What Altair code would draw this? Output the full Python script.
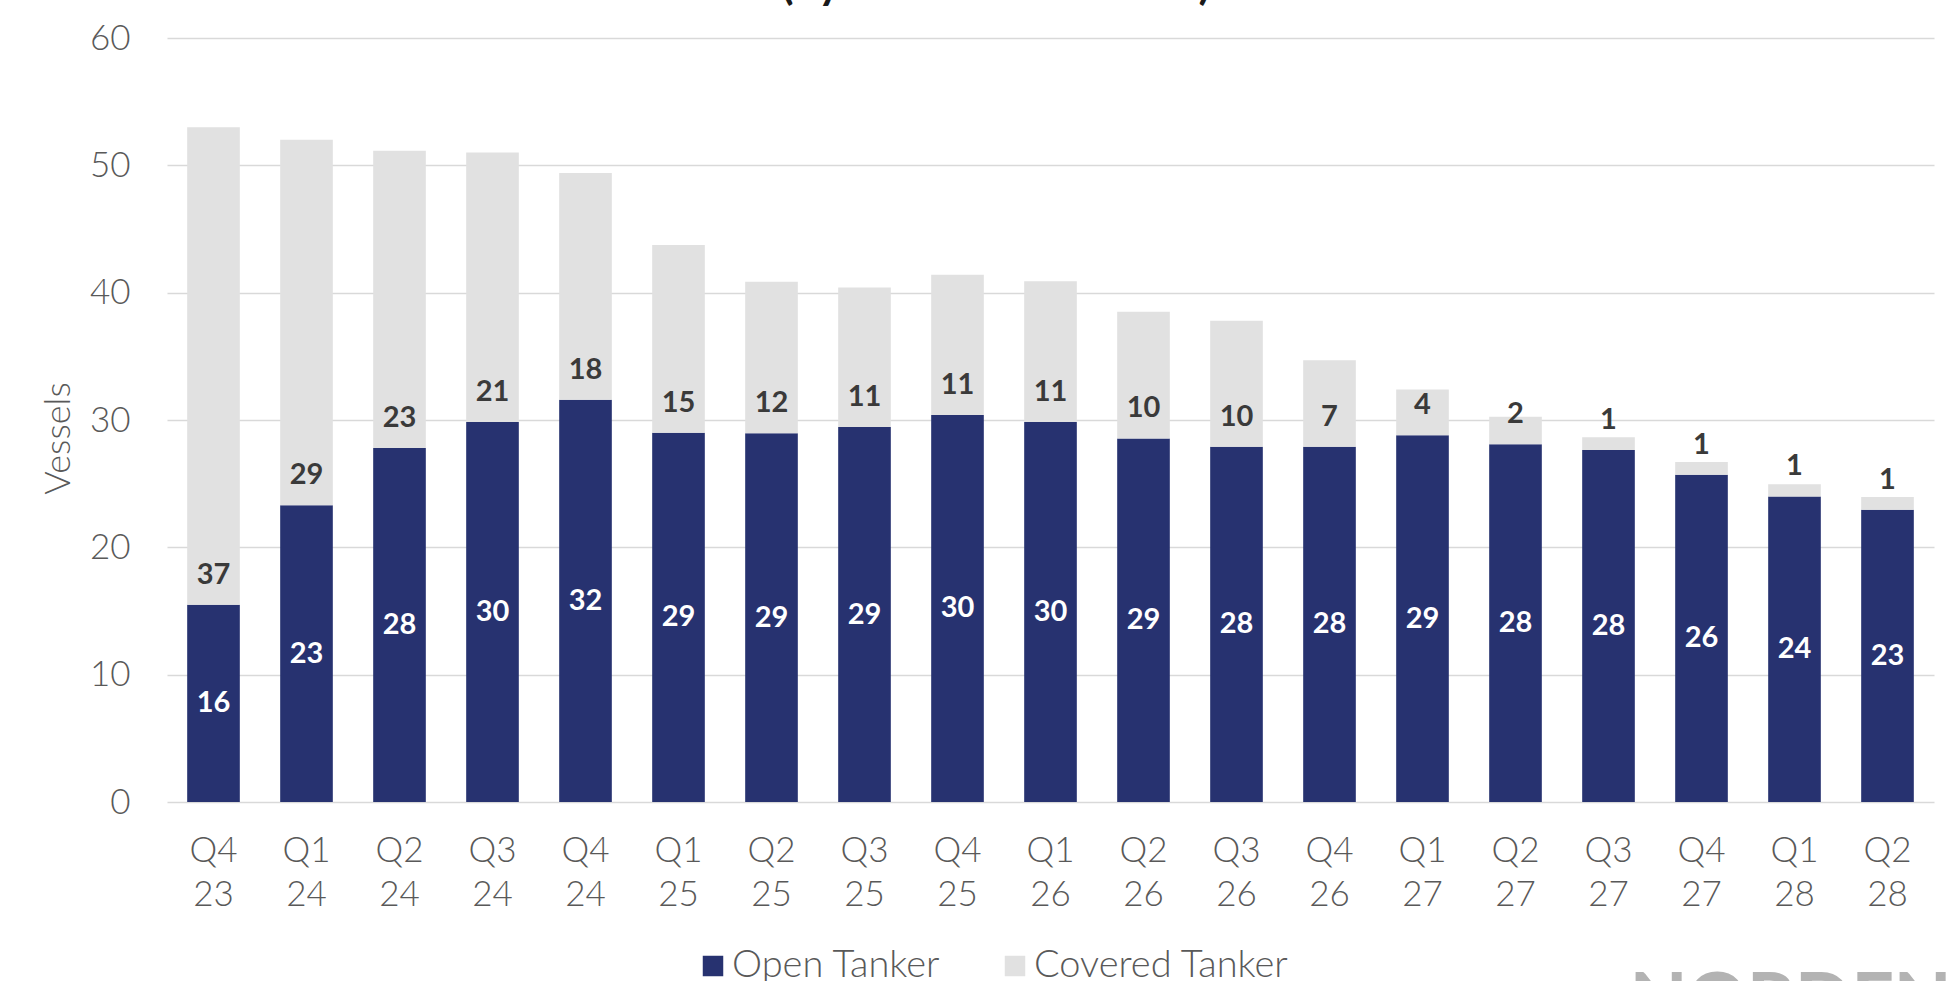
import altair as alt
import pandas as pd

quarters = ["Q4 23", "Q1 24", "Q2 24", "Q3 24", "Q4 24", "Q1 25", "Q2 25", "Q3 25", "Q4 25",
            "Q1 26", "Q2 26", "Q3 26", "Q4 26", "Q1 27", "Q2 27", "Q3 27", "Q4 27", "Q1 28", "Q2 28"]
open_h = [15.5, 23.3, 27.8, 29.85, 31.6, 29.0, 28.95, 29.45, 30.4, 29.85,
          28.55, 27.9, 27.9, 28.8, 28.1, 27.65, 25.7, 24.0, 22.95]
covered_h = [37.5, 28.7, 23.35, 21.15, 17.8, 14.75, 11.9, 10.95, 11.0, 11.05,
             9.95, 9.9, 6.8, 3.6, 2.15, 1.0, 1.0, 0.95, 1.0]
open_lbl = [16, 23, 28, 30, 32, 29, 29, 29, 30, 30, 29, 28, 28, 29, 28, 28, 26, 24, 23]
covered_lbl = [37, 29, 23, 21, 18, 15, 12, 11, 11, 11, 10, 10, 7, 4, 2, 1, 1, 1, 1]
series = ["Open Tanker", "Covered Tanker"]
colors = ["#273270", "#e1e1e1"]
title_text = ["(by number of vessels)"]
logo_text = ["NORDEN"]

rows = []
for q, o, c, ol, cl in zip(quarters, open_h, covered_h, open_lbl, covered_lbl):
    rows.append({"q": q, "series": series[0], "start": 0.0, "end": o, "mid": o / 2, "label": ol})
    rows.append({"q": q, "series": series[1], "start": o, "end": o + c, "mid": o + c / 2, "label": cl})
df = pd.DataFrame(rows)

FONT = "Lato"
GRAY = "#595959"

x_enc = alt.X(
    "q:N", sort=quarters, title=None,
    scale=alt.Scale(paddingInner=0.434, paddingOuter=0.217),
    axis=alt.Axis(labelAngle=0, labelExpr="split(datum.label, ' ')", labelLineHeight=44.7,
                  labelBaseline="top", labelPadding=31, labelFontSize=35, labelFont=FONT,
                  labelFontWeight=300, labelColor=GRAY, domain=False, ticks=False, grid=False),
)
y_scale = alt.Scale(domain=[0, 60], nice=False)

bars = alt.Chart(df).mark_bar().encode(
    x=x_enc,
    y=alt.Y("start:Q", scale=y_scale, title="Vessels",
            axis=alt.Axis(values=[0, 10, 20, 30, 40, 50, 60], labelFontSize=35, labelFont=FONT,
                          labelFontWeight=300, labelColor=GRAY, labelPadding=37,
                          domain=False, ticks=False, grid=True, gridColor="#d9d9d9", gridWidth=1.5,
                          titleFont=FONT, titleFontSize=36, titleFontWeight=300, titleColor=GRAY,
                          titleX=-109, titleY=400, titleAlign="center", titleBaseline="middle")),
    y2="end:Q",
    color=alt.Color("series:N", scale=alt.Scale(domain=series, range=colors), title=None,
                    legend=alt.Legend(orient="none", legendX=527, legendY=909, direction="horizontal",
                                      symbolType="square", symbolSize=420, symbolStrokeWidth=0,
                                      labelFontSize=38, labelFont=FONT, labelFontWeight=300,
                                      labelColor=GRAY, labelOffset=0, columnPadding=55,
                                      labelLimit=500)),
    order=alt.Order("start:Q"),
)

open_text = alt.Chart(df).transform_filter(alt.datum.series == series[0]).mark_text(
    color="white", font=FONT, fontWeight="bold", fontSize=29, baseline="middle"
).encode(x=alt.X("q:N", sort=quarters), y=alt.Y("mid:Q", scale=y_scale), text="label:N")

cov_text = alt.Chart(df).transform_filter(alt.datum.series == series[1]).mark_text(
    color="#3a3a3a", font=FONT, fontWeight="bold", fontSize=29, baseline="middle", dy=-30
).encode(x=alt.X("q:N", sort=quarters), y=alt.Y("start:Q", scale=y_scale), text="label:N")

title_mark = alt.Chart(pd.DataFrame({"t": title_text})).mark_text(
    color="#1a1a1a", font=FONT, fontWeight="bold", fontSize=44, baseline="alphabetic", align="center"
).encode(x=alt.value(829), y=alt.value(-39), text="t:N")

logo_mark = alt.Chart(pd.DataFrame({"t": logo_text})).mark_text(
    color="#b3b3b3", font=FONT, fontWeight=900, fontSize=74, baseline="alphabetic", align="left"
).encode(x=alt.value(1463), y=alt.value(988), text="t:N")

chart = alt.layer(bars, open_text, cov_text, title_mark, logo_mark).properties(
    width=1767, height=764,
    autosize=alt.AutoSizeParams(type="none"),
    padding={"left": 167, "top": 38, "right": 12, "bottom": 179},
    background="white",
).configure_view(stroke=None)

chart.save("out.html", embed_options={"renderer": "svg", "actions": False})
